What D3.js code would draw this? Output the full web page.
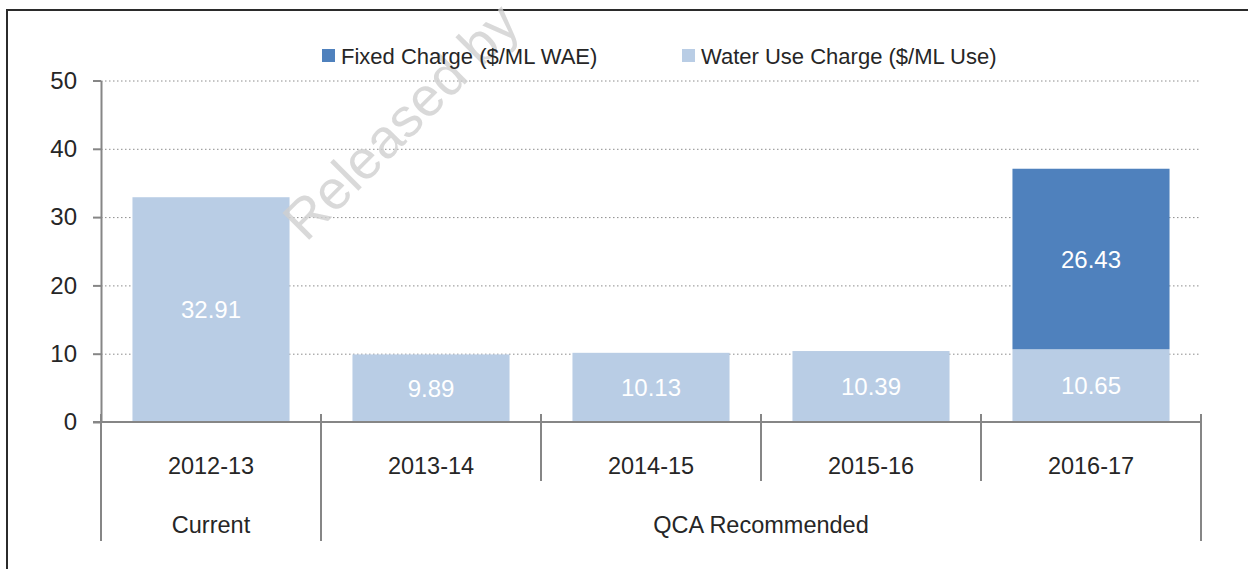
<!DOCTYPE html>
<html lang="en">
<head>
<meta charset="UTF-8">
<title>Water charges</title>
<script src="https://d3js.org/d3.v7.min.js"></script>
<style>
    body { margin: 0; background: #fff; }
    svg { display: block; font-family: "Liberation Sans", Arial, sans-serif; }
    .grid line { stroke: #8c8c8c; stroke-width: 1; stroke-dasharray: 1.5 2.5; }
    .grid path { display: none; }
    .axis path, .axis line { stroke: #868686; stroke-width: 2; }
    .axis text { fill: #262626; }
</style>
</head>
<body>
<svg width="1248" height="569"></svg>
<script>
// chart data
const years = ["2012-13", "2013-14", "2014-15", "2015-16", "2016-17"];
const waterUse = [32.91, 9.89, 10.13, 10.39, 10.65];
const fixedCharge = [0, 0, 0, 0, 26.43];
const seriesNames = ["Fixed Charge ($/ML WAE)", "Water Use Charge ($/ML Use)"];
const groupLabels = ["Current", "QCA Recommended"];
const groupYears = [["2012-13"], ["2013-14", "2014-15", "2015-16", "2016-17"]];
const yTicks = [0, 10, 20, 30, 40, 50];

const colors = { fixed: "#4f81bd", water: "#b9cde5" };

const svg = d3.select("svg");

// outer frame
svg.append("rect")
    .attr("x", 7).attr("y", 10)
    .attr("width", 1300).attr("height", 600)
    .attr("fill", "none")
    .attr("stroke", "#2b2b2b")
    .attr("stroke-width", 2);

const x = d3.scaleBand()
    .domain(years)
    .range([101, 1201])
    .paddingInner(0.286)
    .paddingOuter(0.143);

const y = d3.scaleLinear()
    .domain([0, 50])
    .range([422, 80.5]);

// dotted gridlines
svg.append("g")
    .attr("class", "grid")
    .attr("transform", "translate(101,0)")
    .call(d3.axisLeft(y).tickValues(yTicks.filter(d => d > 0)).tickSize(-1100).tickFormat(""));

// stacked bars
const rows = years.map((yr, i) => ({ year: yr, water: waterUse[i], fixed: fixedCharge[i] }));
const stack = d3.stack().keys(["water", "fixed"])(rows);

svg.append("g").selectAll("g")
    .data(stack)
    .join("g")
    .attr("fill", s => colors[s.key])
    .selectAll("rect")
    .data(s => s.filter(d => d[1] - d[0] > 0))
    .join("rect")
    .attr("x", d => x(d.data.year))
    .attr("y", d => y(d[1]))
    .attr("width", x.bandwidth())
    .attr("height", d => y(d[0]) - y(d[1]));

// value labels
svg.append("g").selectAll("g")
    .data(stack)
    .join("g")
    .selectAll("text")
    .data(s => s.filter(d => d[1] - d[0] > 0).map(d => ({ d, key: s.key })))
    .join("text")
    .attr("x", o => x(o.d.data.year) + x.bandwidth() / 2)
    .attr("y", o => (y(o.d[0]) + y(o.d[1])) / 2)
    .attr("dy", "0.36em")
    .attr("text-anchor", "middle")
    .attr("fill", "#fff")
    .style("font-size", "24px")
    .text(o => (o.d[1] - o.d[0]).toFixed(2));

// y axis
const yAxis = svg.append("g")
    .attr("class", "axis")
    .attr("transform", "translate(101,0)")
    .call(d3.axisLeft(y).tickValues(yTicks).tickSize(8).tickSizeOuter(0).tickPadding(16));
yAxis.selectAll("text").style("font-size", "24px");

// x axis line
const step = x.step();
const left = x(years[0]) - step * x.paddingOuter();
const right = x(years[years.length - 1]) + x.bandwidth() + step * x.paddingOuter();
svg.append("line")
    .attr("x1", 93).attr("x2", right)
    .attr("y1", y(0)).attr("y2", y(0))
    .attr("stroke", "#868686").attr("stroke-width", 2);

// category separators (short) and group separators (long)
const bounds = years.map(yr => x(yr) - step * x.paddingInner() / 2);
bounds.push(right);
bounds[0] = left;
const groupBounds = [left];
groupYears.forEach(g => {
    const last = g[g.length - 1];
    groupBounds.push(x(last) + x.bandwidth() + step * x.paddingInner() / 2);
});
groupBounds[groupBounds.length - 1] = right;

svg.append("g").selectAll("line")
    .data(bounds)
    .join("line")
    .attr("x1", d => d).attr("x2", d => d)
    .attr("y1", y(0) - 8)
    .attr("y2", d => groupBounds.some(g => Math.abs(g - d) < 1) ? 541 : 481)
    .attr("stroke", "#868686").attr("stroke-width", 2);

// category labels
svg.append("g").selectAll("text")
    .data(years)
    .join("text")
    .attr("x", d => x(d) + x.bandwidth() / 2)
    .attr("y", 474)
    .attr("text-anchor", "middle")
    .attr("fill", "#262626")
    .style("font-size", "23.5px")
    .text(d => d);

// group labels
svg.append("g").selectAll("text")
    .data(groupLabels)
    .join("text")
    .attr("x", (d, i) => (groupBounds[i] + groupBounds[i + 1]) / 2)
    .attr("y", 533)
    .attr("text-anchor", "middle")
    .attr("fill", "#262626")
    .style("font-size", "23.5px")
    .text(d => d);

// watermark (under the legend)
svg.append("text")
    .attr("transform", "translate(306,243) rotate(-45)")
    .attr("fill", "#cfcfcf")
    .attr("fill-opacity", 0.8)
    .style("font-size", "55px")
    .text("Released by");

// legend
const legendX = [322, 682];
const legendColors = [colors.fixed, colors.water];
const legend = svg.append("g").selectAll("g")
    .data(seriesNames)
    .join("g")
    .attr("transform", (d, i) => `translate(${legendX[i]},49)`);
legend.append("rect")
    .attr("width", 13).attr("height", 13)
    .attr("fill", (d, i) => legendColors[i]);
legend.append("text")
    .attr("x", 19).attr("y", 7)
    .attr("dy", "0.36em")
    .attr("fill", "#262626")
    .style("font-size", "22px")
    .text(d => d);
</script>
</body>
</html>
